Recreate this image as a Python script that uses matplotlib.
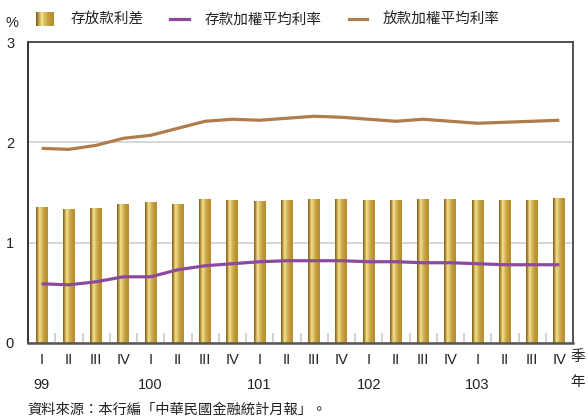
import numpy as np
import matplotlib
matplotlib.use("Agg")
import matplotlib.pyplot as plt
from matplotlib.patches import Rectangle
from matplotlib.lines import Line2D
from matplotlib.legend_handler import HandlerBase
from matplotlib.colors import LinearSegmentedColormap

plt.rcParams['font.family'] = ['Liberation Sans', 'Noto Sans CJK TC', 'DejaVu Sans']

quarters = ['I', 'II', 'III', 'IV'] * 5
years = ['99', '100', '101', '102', '103']
spread = [1.36, 1.34, 1.35, 1.39, 1.41, 1.39, 1.44, 1.43, 1.42, 1.43,
          1.44, 1.44, 1.43, 1.43, 1.44, 1.44, 1.43, 1.43, 1.43, 1.45]
deposit = [0.59, 0.58, 0.61, 0.66, 0.66, 0.73, 0.77, 0.79, 0.81, 0.82,
           0.82, 0.82, 0.81, 0.81, 0.80, 0.80, 0.79, 0.78, 0.78, 0.78]
loan = [1.94, 1.93, 1.97, 2.04, 2.07, 2.14, 2.21, 2.23, 2.22, 2.24,
        2.26, 2.25, 2.23, 2.21, 2.23, 2.21, 2.19, 2.20, 2.21, 2.22]
labels = ['存放款利差', '存款加權平均利率', '放款加權平均利率']

gold_stops = [(0.0, '#7a5d1a'), (0.12, '#b08d35'), (0.3, '#f4e394'),
              (0.5, '#d8ba5c'), (0.72, '#c19b3b'), (1.0, '#b38d2e')]
gold_cmap = LinearSegmentedColormap.from_list('gold', gold_stops)
purple = '#8c4a9d'
brown = '#b07b4d'

fig = plt.figure(figsize=(5.88, 4.2), dpi=100)
ax = fig.add_axes([28/588, 1-343/420, 545/588, 301/420])

x = np.arange(len(spread))
bars = ax.bar(x, spread, width=0.44, color='#c19b3b', zorder=2)
grad = np.linspace(0, 1, 64).reshape(1, -1)
for b in bars:
    bx, by = b.get_x(), b.get_y()
    im = ax.imshow(grad, cmap=gold_cmap, aspect='auto',
                   extent=[bx, bx + b.get_width(), by, by + b.get_height()],
                   zorder=2.1, interpolation='bilinear')
    im.set_clip_path(b)

ax.plot(x, deposit, color=purple, lw=2.3, zorder=3, solid_capstyle='butt')
ax.plot(x, loan, color=brown, lw=2.3, zorder=3, solid_capstyle='butt')

ax.set_xlim(-0.5, len(spread) - 0.5)
ax.set_ylim(0, 3)
ax.set_yticks([0, 1, 2, 3])
ax.set_yticklabels(['0', '1', '2', '3'])
ax.yaxis.grid(True, color='#d4d4d4', lw=1.3, zorder=0)
ax.set_axisbelow(True)
ax.set_xticks(x)
ax.set_xticklabels(quarters)
ax.set_xticks(np.arange(0.5, len(spread) - 1, 1), minor=True)
ax.tick_params(axis='both', which='major', length=0, labelsize=10.5, colors='#222222')
ax.tick_params(axis='y', pad=10)
ax.tick_params(axis='x', pad=7)
ax.tick_params(axis='x', which='minor', direction='in', length=7, width=1.3, color='#cfcfcf')
for s in ax.spines.values():
    s.set_color('#444444')
    s.set_linewidth(1.3)
ax.spines['left'].set_color('#222222')
ax.spines['bottom'].set_color('#555555')
ax.spines['bottom'].set_linewidth(1.8)

for i, yr in enumerate(years):
    ax.text(i * 4, -0.115, yr, transform=ax.get_xaxis_transform(), ha='center', va='top',
            fontsize=10.5, color='#222222')
fig.text(578/588, 1-357/420, '季', ha='center', va='center', fontsize=10.5, color='#222222')
fig.text(578/588, 1-382/420, '年', ha='center', va='center', fontsize=10.5, color='#222222')
fig.text(12/588, 1-23/420, '%', ha='center', va='center', fontsize=10.5, color='#222222')
fig.text(27/588, 1-410/420, '資料來源：本行編「中華民國金融統計月報」。', ha='left', va='center',
         fontsize=10.3, color='#222222')


class GradHandler(HandlerBase):
    def create_artists(self, legend, orig_handle, xdescent, ydescent, width, height, fontsize, trans):
        arts = []
        n = 24
        w = width / n
        for k in range(n):
            r = Rectangle((xdescent * -1 + k * w, -ydescent - 0.15 * height), w * 1.05, height * 1.3,
                          facecolor=gold_cmap((k + 0.5) / n), edgecolor='none', transform=trans)
            arts.append(r)
        return arts


bar_proxy = Rectangle((0, 0), 1, 1)
h_dep = Line2D([], [], color=purple, lw=2.3)
h_loan = Line2D([], [], color=brown, lw=2.3)
leg = fig.legend([bar_proxy, h_dep, h_loan], labels, ncol=3, frameon=False,
                 loc='center left', bbox_to_anchor=(36/588, 1-20/420),
                 handler_map={Rectangle: GradHandler()},
                 fontsize=10.5, handlelength=1.25, handletextpad=1.1, columnspacing=1.85,
                 borderaxespad=0, borderpad=0)
for t in leg.get_texts():
    t.set_color('#222222')

fig.savefig('out.png', dpi=100)
